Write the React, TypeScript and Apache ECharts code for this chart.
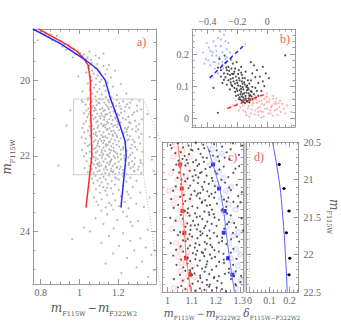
import React, { useEffect, useRef } from "react";
import * as echarts from "echarts";

// ---------- DATA ----------
// Panel a: CMD stars (colour m_F115W - m_F322W2, magnitude m_F115W)
const cmdUpper = "0.803 18.72, 0.824 18.78, 0.853 18.80, 0.842 18.86, 0.874 18.90, 0.861 18.95, 0.905 18.97, 0.893 19.02, 0.921 19.05, 0.944 19.08, 0.912 19.12, 0.953 19.14, 0.972 19.18, 0.964 19.22, 0.993 19.24, 1.004 19.28, 0.982 19.31, 1.023 19.33, 1.014 19.37, 1.042 19.40, 1.033 19.44, 1.061 19.46, 0.934 19.20, 1.083 19.35, 1.102 19.42, 0.785 18.95, 0.884 18.83, 1.124 19.30, 0.966 19.40, 1.052 19.25, 1.153 19.60";
const cmdMid = "1.033 19.52, 1.064 19.55, 1.092 19.58, 1.051 19.61, 1.123 19.63, 1.044 19.67, 1.082 19.69, 1.143 19.72, 1.065 19.75, 1.104 19.78, 1.036 19.80, 1.073 19.83, 1.134 19.85, 1.095 19.88, 1.057 19.91, 1.162 19.93, 1.086 19.96, 1.113 19.99, 1.064 20.02, 1.105 20.05, 1.146 20.07, 1.043 20.09, 1.084 20.12, 1.127 20.15, 1.173 20.17, 1.076 20.20, 1.103 20.23, 1.054 20.25, 1.135 20.28, 1.092 20.31, 1.154 20.33, 1.066 20.36, 1.115 20.38, 1.193 20.40, 1.083 20.43, 1.136 20.45, 1.044 20.47, 1.104 20.49, 1.165 20.46, 0.994 19.90, 1.213 20.10, 1.184 19.75, 1.016 20.30, 1.242 20.35";
const boxStars = "1.043 20.52, 1.087 20.548, 1.116 20.507, 1.152 20.583, 1.064 20.571, 1.193 20.529, 1.128 20.594, 1.226 20.562, 1.012 20.541, 1.271 20.518, 1.097 20.603, 1.055 20.634, 1.103 20.612, 1.137 20.658, 1.071 20.686, 1.174 20.623, 1.208 20.694, 1.032 20.647, 1.245 20.639, 1.146 20.705, 1.296 20.672, 1.089 20.661, 1.062 20.726, 1.118 20.741, 1.084 20.783, 1.163 20.712, 1.131 20.794, 1.214 20.757, 1.046 20.748, 1.186 20.803, 1.257 20.731, 1.106 20.769, 1.318 20.776, 1.053 20.842, 1.124 20.817, 1.092 20.884, 1.157 20.859, 1.074 20.813, 1.197 20.893, 1.233 20.828, 1.141 20.902, 1.024 20.871, 1.282 20.854, 1.176 20.836, 1.067 20.931, 1.104 20.958, 1.135 20.914, 1.083 20.987, 1.162 20.949, 1.204 20.923, 1.252 20.968, 1.117 20.941, 1.041 20.979, 1.223 21.004, 1.184 20.982, 1.073 21.024, 1.126 21.048, 1.094 21.081, 1.153 21.033, 1.056 21.062, 1.196 21.089, 1.143 21.097, 1.238 21.041, 1.108 21.013, 1.287 21.071, 1.171 21.057, 1.034 21.092, 1.061 21.128, 1.112 21.153, 1.136 21.179, 1.087 21.114, 1.165 21.158, 1.214 21.122, 1.182 21.191, 1.263 21.142, 1.098 21.203, 1.147 21.134, 1.308 21.168, 1.052 21.231, 1.093 21.259, 1.121 21.214, 1.156 21.277, 1.074 21.288, 1.193 21.243, 1.234 21.269, 1.133 21.252, 1.172 21.221, 1.015 21.262, 1.273 21.297, 1.064 21.326, 1.103 21.358, 1.142 21.313, 1.085 21.387, 1.163 21.349, 1.124 21.378, 1.205 21.321, 1.243 21.366, 1.184 21.403, 1.044 21.338, 1.291 21.357, 1.072 21.418, 1.114 21.452, 1.091 21.483, 1.153 21.429, 1.134 21.491, 1.192 21.462, 1.224 21.413, 1.055 21.471, 1.171 21.438, 1.262 21.479, 1.121 21.503, 1.063 21.521, 1.106 21.553, 1.144 21.527, 1.082 21.584, 1.165 21.561, 1.127 21.602, 1.213 21.538, 1.183 21.592, 1.254 21.569, 1.033 21.549, 1.307 21.517, 1.074 21.631, 1.113 21.612, 1.095 21.672, 1.152 21.648, 1.136 21.693, 1.203 21.619, 1.174 21.681, 1.235 21.657, 1.052 21.703, 1.284 21.639, 1.122 21.664, 1.066 21.729, 1.102 21.761, 1.145 21.718, 1.083 21.792, 1.164 21.748, 1.124 21.783, 1.192 21.711, 1.226 21.774, 1.043 21.741, 1.263 21.797, 1.176 21.786, 1.075 21.822, 1.116 21.853, 1.093 21.881, 1.154 21.834, 1.132 21.872, 1.185 21.902, 1.213 21.843, 1.244 21.861, 1.054 21.893, 1.297 21.828, 1.163 21.857, 1.084 21.918, 1.123 21.952, 1.105 21.983, 1.157 21.931, 1.142 21.968, 1.194 21.943, 1.232 21.991, 1.064 21.962, 1.273 21.924, 1.176 22.003, 1.113 21.909, 1.073 22.028, 1.115 22.061, 1.094 22.087, 1.152 22.023, 1.134 22.081, 1.183 22.052, 1.214 22.097, 1.253 22.041, 1.056 22.068, 1.165 22.092, 1.286 22.059, 1.024 22.014, 1.082 22.121, 1.124 22.148, 1.103 22.183, 1.162 22.132, 1.143 22.189, 1.202 22.157, 1.234 22.113, 1.065 22.171, 1.184 22.204, 1.272 22.139, 1.316 22.178, 1.074 22.218, 1.112 22.253, 1.135 22.281, 1.093 22.209, 1.173 22.262, 1.154 22.229, 1.213 22.289, 1.254 22.241, 1.052 22.272, 1.194 22.302, 1.283 22.224, 1.085 22.322, 1.126 22.357, 1.104 22.389, 1.163 22.338, 1.144 22.371, 1.192 22.314, 1.224 22.381, 1.063 22.349, 1.263 22.327, 1.175 22.403, 1.302 22.366, 1.093 22.418, 1.134 22.452, 1.114 22.483, 1.172 22.429, 1.153 22.471, 1.204 22.443, 1.243 22.491, 1.074 22.462, 1.284 22.412, 1.185 22.478, 1.043 22.438";
const boxStarsExtra = "1.017 20.583, 1.148 20.536, 1.204 20.611, 1.262 20.597, 1.309 20.548, 1.079 20.739, 1.237 20.708, 1.151 20.764, 1.297 20.822, 1.036 20.801, 1.215 20.867, 1.128 20.973, 1.273 20.912, 1.058 21.003, 1.187 21.018, 1.322 21.036, 1.256 21.109, 1.023 21.151, 1.126 21.187, 1.198 21.171, 1.293 21.222, 1.067 21.207, 1.252 21.243, 1.144 21.296, 1.025 21.379, 1.228 21.394, 1.176 21.342, 1.319 21.421, 1.083 21.446, 1.247 21.456, 1.011 21.511, 1.195 21.507, 1.276 21.582, 1.096 21.613, 1.247 21.596, 1.157 21.619, 1.313 21.681, 1.027 21.674, 1.205 21.757, 1.137 21.741, 1.288 21.762, 1.064 21.813, 1.226 21.822, 1.178 21.872, 1.324 21.893, 1.035 21.937, 1.213 21.962, 1.147 21.982, 1.262 21.975, 1.084 22.046, 1.233 22.068, 1.197 22.033, 1.315 22.117, 1.037 22.139, 1.158 22.167, 1.255 22.191, 1.094 22.236, 1.238 22.259, 1.305 22.286, 1.026 22.327, 1.207 22.352, 1.136 22.313, 1.281 22.396, 1.057 22.419, 1.225 22.461, 1.163 22.404, 1.318 22.457, 1.102 22.271, 1.188 20.682, 1.112 20.876, 1.245 21.292, 1.173 21.473, 1.091 21.729, 1.271 21.711, 1.118 22.001, 1.276 22.291, 1.048 20.907, 1.302 21.303, 1.013 21.847, 1.328 22.223";
const cmdOutliers = "0.892 22.26, 0.934 21.20, 1.362 21.50, 1.374 22.10, 0.953 20.80, 1.351 20.90, 1.383 22.40";
const cmdLower = "1.083 22.53, 1.124 22.56, 1.152 22.52, 1.106 22.59, 1.183 22.57, 1.224 22.54, 1.064 22.60, 1.262 22.58, 1.135 22.62, 1.093 22.65, 1.166 22.67, 1.204 22.63, 1.115 22.70, 1.243 22.68, 1.072 22.72, 1.294 22.66, 1.146 22.74, 1.183 22.76, 1.104 22.79, 1.226 22.80, 1.122 22.83, 1.163 22.86, 1.274 22.82, 1.085 22.88, 1.203 22.90, 1.134 22.92, 1.245 22.95, 1.106 22.98, 1.173 23.00, 1.314 22.97, 1.142 23.04, 1.213 23.07, 1.075 23.10, 1.264 23.12, 1.116 23.15, 1.185 23.18, 1.233 23.22, 1.154 23.25, 1.293 23.27, 1.096 23.30, 1.204 23.33, 1.135 23.36, 1.253 23.39, 1.174 23.42, 1.332 23.35, 1.113 23.45, 1.225 23.48, 1.362 23.10, 1.192 22.60, 1.142 22.84, 1.253 23.02, 1.087 23.21, 1.164 23.31";
const cmdFaint = "1.143 23.55, 1.244 23.60, 1.083 23.65, 1.195 23.70, 1.302 23.72, 1.124 23.80, 1.273 23.85, 1.176 23.92, 1.353 23.95, 1.054 24.00, 1.225 24.05, 1.153 24.12, 1.314 24.18, 1.262 24.25, 1.113 24.30, 1.204 24.38, 1.342 24.42, 1.283 24.50, 1.174 24.58, 1.372 24.62, 1.246 24.70, 1.323 24.80, 1.135 24.85, 1.294 24.95, 1.384 25.02, 1.216 25.10, 1.355 25.20, 1.263 23.75, 1.024 23.90, 0.963 24.20";

const redFiducialColor = [0.79, 0.86, 0.93, 0.99, 1.022, 1.046, 1.056, 1.059, 1.062, 1.064, 1.034];
const redFiducialMag = [18.65, 18.85, 19.05, 19.25, 19.43, 19.62, 20.0, 21.0, 21.6, 22.0, 23.37];
const blueFiducialColor = [0.76, 0.9, 1.02, 1.09, 1.133, 1.159, 1.2, 1.236, 1.241, 1.214];
const blueFiducialMag = [18.65, 19.03, 19.43, 19.7, 20.0, 20.47, 21.05, 21.62, 22.0, 23.37];
const zoomBoxColor = [0.97, 1.33];
const zoomBoxMag = [20.5, 22.5];

// Panel b: pseudo two-colour diagram
const bBlack = "-0.30 0.165, -0.28 0.172, -0.27 0.150, -0.29 0.140, -0.26 0.160, -0.25 0.135, -0.24 0.155, -0.23 0.125, -0.22 0.145, -0.26 0.118, -0.21 0.130, -0.20 0.110, -0.24 0.105, -0.19 0.125, -0.18 0.100, -0.22 0.095, -0.17 0.115, -0.16 0.090, -0.20 0.085, -0.15 0.105, -0.14 0.080, -0.18 0.075, -0.13 0.095, -0.12 0.070, -0.16 0.065, -0.11 0.085, -0.10 0.060, -0.14 0.055, -0.09 0.075, -0.12 0.050, -0.31 0.150, -0.28 0.128, -0.23 0.170, -0.19 0.150, -0.17 0.135, -0.15 0.125, -0.13 0.118, -0.21 0.070, -0.19 0.060, -0.17 0.055, -0.15 0.048, -0.25 0.090, -0.27 0.105, -0.08 0.095, -0.06 0.110, -0.05 0.130, -0.07 0.150, -0.10 0.140, -0.04 0.085, -0.02 0.100, -0.09 0.165, -0.11 0.175, -0.33 0.017, -0.36 0.095, -0.32 0.185, -0.285 0.195, -0.245 0.185, -0.205 0.175, -0.175 0.160, -0.145 0.145, -0.195 0.102, -0.185 0.088, -0.175 0.082, -0.165 0.097, -0.155 0.078, -0.145 0.070, -0.135 0.088, -0.125 0.062, -0.205 0.118, -0.215 0.108, -0.225 0.115, -0.235 0.138, -0.245 0.122, -0.255 0.148, -0.265 0.138, -0.275 0.158, -0.195 0.138, -0.185 0.118, -0.165 0.108, -0.155 0.112, -0.135 0.102, -0.125 0.090, -0.115 0.072, -0.105 0.068, -0.195 0.072, -0.185 0.065, -0.175 0.092, -0.165 0.075, -0.155 0.058, -0.145 0.062, -0.135 0.052, -0.125 0.078, -0.115 0.058, -0.105 0.082, -0.165 0.125, -0.175 0.142, -0.215 0.155, -0.225 0.138, -0.235 0.100, -0.245 0.112, -0.205 0.092, -0.215 0.082, -0.17 0.068, -0.16 0.052, -0.18 0.058, -0.14 0.098, -0.12 0.108, -0.10 0.098, -0.11 0.118, -0.08 0.128, -0.06 0.070, -0.07 0.085, -0.03 0.115, -0.01 0.140, -0.03 0.160, 0.01 0.125, -0.29 0.120, -0.31 0.130, -0.33 0.158, -0.30 0.110, 0.12 0.196";
const bBlue = "-0.43 0.205, -0.41 0.185, -0.39 0.220, -0.37 0.195, -0.36 0.240, -0.35 0.175, -0.34 0.210, -0.33 0.250, -0.32 0.190, -0.31 0.225, -0.30 0.205, -0.29 0.260, -0.28 0.185, -0.27 0.215, -0.26 0.235, -0.38 0.165, -0.35 0.155, -0.33 0.140, -0.30 0.175, -0.28 0.240, -0.25 0.205, -0.24 0.180, -0.315 0.270, -0.345 0.225, -0.365 0.205, -0.395 0.180, -0.405 0.235, -0.325 0.170, -0.295 0.155, -0.27 0.190, -0.31 0.245, -0.34 0.195, -0.36 0.175, -0.38 0.210, -0.42 0.170";
const bRed = "-0.20 0.045, -0.18 0.035, -0.17 0.055, -0.16 0.025, -0.15 0.045, -0.14 0.060, -0.13 0.030, -0.12 0.050, -0.11 0.015, -0.10 0.040, -0.09 0.060, -0.08 0.025, -0.07 0.048, -0.06 0.010, -0.05 0.035, -0.04 0.055, -0.03 0.020, -0.02 0.042, -0.01 0.065, 0.00 0.030, 0.01 0.050, 0.02 0.015, 0.03 0.040, 0.04 0.060, 0.05 0.025, 0.06 0.045, 0.07 0.010, 0.08 0.035, 0.09 0.020, 0.10 0.045, 0.11 0.030, -0.165 0.040, -0.145 0.020, -0.135 0.052, -0.125 0.038, -0.115 0.062, -0.105 0.028, -0.095 0.048, -0.085 0.012, -0.075 0.058, -0.065 0.032, -0.055 0.052, -0.045 0.022, -0.035 0.045, -0.025 0.005, -0.015 0.030, -0.005 0.050, 0.005 0.015, 0.015 0.058, 0.025 0.035, 0.035 0.008, 0.045 0.045, 0.055 0.052, 0.065 0.028, 0.075 0.048, 0.085 0.055, -0.19 0.025, -0.21 0.055, -0.23 0.040, -0.12 0.005, -0.08 0.070, -0.04 0.002, 0.00 0.068, 0.04 0.070, 0.12 0.015, 0.13 0.040, 0.16 0.020, -0.06 0.020, -0.10 0.055, -0.14 0.010, -0.02 0.060, 0.02 0.025, 0.06 0.062, 0.17 0.060";
const bBlueLineX = [-0.385, -0.145];
const bBlueLineY = [0.126, 0.232];
const bRedLineX = [-0.267, 0.0];
const bRedLineY = [0.031, 0.078];

// Panel c: selected stars and fiducials
const cRedSel = "1.034 20.55, 1.062 20.62, 1.023 20.70, 1.051 20.78, 1.083 20.85, 1.014 20.92, 1.042 21.00, 1.073 21.05, 1.031 21.12, 1.064 21.20, 1.092 21.27, 1.025 21.33, 1.053 21.40, 1.084 21.46, 1.043 21.53, 1.072 21.60, 1.016 21.66, 1.061 21.72, 1.094 21.78, 1.035 21.84, 1.055 21.90, 1.083 21.97, 1.044 22.03, 1.075 22.10, 1.102 22.16, 1.053 22.22, 1.086 22.28, 1.064 22.35, 1.093 22.41, 1.074 22.47, 1.046 20.66, 1.077 20.96, 1.035 21.25, 1.066 21.57, 1.047 21.95, 1.112 22.30, 1.026 22.45, 1.005 21.15, 1.093 20.70, 1.057 22.12";
const cBlueSel = "1.183 20.60, 1.204 20.72, 1.176 20.80, 1.213 20.90, 1.232 20.98, 1.205 21.05, 1.243 21.15, 1.224 21.25, 1.253 21.33, 1.235 21.45, 1.262 21.55, 1.244 21.63, 1.273 21.75, 1.255 21.85, 1.284 21.93, 1.263 22.05, 1.292 22.15, 1.274 22.25, 1.303 22.35, 1.285 22.45, 1.225 20.65, 1.264 21.10, 1.282 21.40, 1.294 21.70, 1.302 22.00";
const binMag = [20.8, 21.12, 21.42, 21.71, 22.05, 22.27];
const redBinColor = [1.052, 1.059, 1.062, 1.07, 1.077, 1.093];
const blueBinColor = [1.189, 1.214, 1.237, 1.233, 1.251, 1.269];
const redLineColor = [1.044, 1.052, 1.059, 1.064, 1.07, 1.078, 1.088, 1.097];
const redLineMag = [20.55, 20.82, 21.12, 21.42, 21.71, 22.05, 22.3, 22.5];
const blueLineColor = [1.165, 1.19, 1.215, 1.232, 1.243, 1.255, 1.268, 1.278];
const blueLineMag = [20.55, 20.82, 21.1, 21.4, 21.7, 22.0, 22.3, 22.5];

// Panel d: colour separation
const dDelta = [0.148, 0.172, 0.197, 0.184, 0.201, 0.197];
const dErr = [0.008, 0.008, 0.008, 0.008, 0.008, 0.008];
const dCurveDelta = [0.115, 0.135, 0.152, 0.163, 0.172, 0.179, 0.185, 0.188];
const dCurveMag = [20.5, 20.8, 21.1, 21.4, 21.7, 22.0, 22.3, 22.5];

// tick labels
const aXTicks = [0.8, 1.0, 1.2];
const aYTicks = [20, 22, 24];
const bXTicks = [-0.4, -0.2, 0];
const bYTicks = [0, 0.1, 0.2];
const cXTicks = [1.0, 1.1, 1.2, 1.3];
const cdYTicks = [20.5, 21, 21.5, 22, 22.5];
const dXTicks = [0, 0.1, 0.2];

// ---------- HELPERS ----------
function pairs(s: string): number[][] {
  return s
    .split(",")
    .map((t) => t.trim().split(/\s+/).map(Number))
    .filter((p) => p.length === 2 && !isNaN(p[0]) && !isNaN(p[1]));
}
function zip(a: number[], b: number[]): number[][] {
  return a.map((v, i) => [v, b[i]]);
}
function steps(from: number, to: number, step: number): number[] {
  const out: number[] = [];
  const n = Math.round((to - from) / step);
  for (let i = 0; i <= n; i++) out.push(Math.round((from + i * step) * 1000) / 1000);
  return out;
}
const fmt = (v: number) => String(Math.round(v * 100) / 100).replace("-", "\u2212");

const AX = "#9a9a9a";
const LBL = "#666";
const SERIF = "Liberation Serif";

const GRIDS = [
  { left: 32, top: 29, width: 124, height: 263 }, // a
  { left: 192, top: 29, width: 103, height: 98 }, // b
  { left: 162, top: 142, width: 81, height: 150 }, // c
  { left: 246, top: 142, width: 54, height: 150 }, // d
];

function richName(big: number, small: number) {
  return {
    m: { fontFamily: "DejaVu Serif", fontStyle: "italic", fontSize: big, color: "#555", verticalAlign: "bottom", padding: [0, 0, 3, 0] },
    s: { fontFamily: "DejaVu Serif", fontSize: small, color: "#555", verticalAlign: "bottom", padding: [0, 1, 0, 0] },
    o: { fontFamily: "DejaVu Serif", fontSize: big - 1, color: "#555", verticalAlign: "bottom", padding: [0, 1, 3, 1] },
  };
}

function addAxes(
  list: any[],
  gridIndex: number,
  isX: boolean,
  min: number,
  max: number,
  majors: number[],
  minors: number[],
  labelPos: string | null,
  inverse: boolean,
  name?: string,
  nameOpts?: any
): number {
  const positions = isX ? ["bottom", "top"] : ["left", "right"];
  const mainIndex = list.length;
  for (const pos of positions) {
    const showLabel = pos === labelPos;
    const base: any = {
      type: "value",
      gridIndex,
      min,
      max,
      position: pos,
      inverse,
      splitLine: { show: false },
      scale: true,
    };
    list.push({
      ...base,
      axisLine: { show: true, onZero: false, lineStyle: { color: AX, width: 1 } },
      axisTick: { show: true, inside: true, length: 5, customValues: majors, lineStyle: { color: AX } },
      axisLabel: {
        show: showLabel,
        customValues: majors,
        formatter: fmt,
        fontFamily: SERIF,
        fontSize: 10,
        color: LBL,
        margin: 3,
      },
      ...(showLabel && name ? { name, ...nameOpts } : {}),
    });
    list.push({
      ...base,
      axisLine: { show: false, onZero: false },
      axisTick: { show: true, inside: true, length: 2.5, customValues: minors, lineStyle: { color: AX } },
      axisLabel: { show: false },
    });
  }
  return mainIndex;
}

export default function App() {
  const ref = useRef<HTMLDivElement>(null);

  useEffect(() => {
    document.body.style.margin = "0";
    if (!ref.current) return;
    const chart = echarts.init(ref.current, null, { renderer: "svg" });

    const xAxes: any[] = [];
    const yAxes: any[] = [];
    const big = { rich: richName(12, 6.5) };
    const small = { rich: richName(10.5, 5.8) };
    // a
    const aX = addAxes(xAxes, 0, true, 0.76, 1.395, aXTicks, steps(0.8, 1.35, 0.05), "bottom", false,
      "{m|m}{s|F115W}{o|\u2212}{m|m}{s|F322W2}", { nameLocation: "middle", nameGap: 15, nameTextStyle: big });
    const aY = addAxes(yAxes, 0, false, 18.65, 25.39, aYTicks, steps(19, 25, 0.5), "left", true,
      "{m|m}{s|F115W}", { nameLocation: "middle", nameGap: 15, nameRotate: 90, nameTextStyle: big });
    // b
    const bX = addAxes(xAxes, 1, true, -0.503, 0.185, bXTicks, steps(-0.48, 0.16, 0.04), "top", false);
    const bY = addAxes(yAxes, 1, false, -0.027, 0.278, bYTicks, steps(-0.02, 0.26, 0.02), "left", false);
    // c
    const cX = addAxes(xAxes, 2, true, 0.977, 1.313, cXTicks, steps(0.98, 1.3, 0.02), "bottom", false,
      "{m|m}{s|F115W}{o|\u2212}{m|m}{s|F322W2}", { nameLocation: "middle", nameGap: 15, nameTextStyle: small });
    const cY = addAxes(yAxes, 2, false, 20.5, 22.5, cdYTicks, steps(20.5, 22.5, 0.1), null, true);
    // d
    const dX = addAxes(xAxes, 3, true, -0.018, 0.245, dXTicks, steps(0, 0.24, 0.02), "bottom", false,
      "{m|\u03b4}{s|F115W\u2212F322W2}", { nameLocation: "middle", nameGap: 15, nameTextStyle: small });
    const dY = addAxes(yAxes, 3, false, 20.5, 22.5, cdYTicks, steps(20.5, 22.5, 0.1), "right", true,
      "{m|m}{s|F115W}", { nameLocation: "middle", nameGap: 24, nameRotate: -90, nameTextStyle: big });
    yAxes[dY + 2].axisLabel.margin = 5;

    const sc = (xi: number, yi: number, data: number[][], color: string, size: number, extra: any = {}) => ({
      type: "scatter",
      xAxisIndex: xi,
      yAxisIndex: yi,
      data,
      symbolSize: size,
      itemStyle: { color },
      silent: true,
      ...extra,
    });
    const ln = (xi: number, yi: number, data: number[][], color: string, width: number, extra: any = {}) => ({
      type: "line",
      xAxisIndex: xi,
      yAxisIndex: yi,
      data,
      symbol: "none",
      lineStyle: { color, width },
      silent: true,
      ...extra,
    });

    const box = [
      [zoomBoxColor[0], zoomBoxMag[0]],
      [zoomBoxColor[1], zoomBoxMag[0]],
      [zoomBoxColor[1], zoomBoxMag[1]],
      [zoomBoxColor[0], zoomBoxMag[1]],
      [zoomBoxColor[0], zoomBoxMag[0]],
    ];
    const inBox = [...pairs(boxStars), ...pairs(boxStarsExtra)];

    const series: any[] = [
      // panel a
      ln(aX, aY, box, "#cfcfcf", 1),
      sc(aX, aY, [...pairs(cmdUpper), ...pairs(cmdMid), ...inBox, ...pairs(cmdOutliers), ...pairs(cmdLower), ...pairs(cmdFaint)], "#a4a4a4", 2),
      ln(aX, aY, zip(redFiducialColor, redFiducialMag), "#ff2a2a", 1.5),
      ln(aX, aY, zip(blueFiducialColor, blueFiducialMag), "#2a2aff", 1.5),
      // panel b
      sc(bX, bY, pairs(bRed), "#ff9a9a", 2),
      sc(bX, bY, pairs(bBlue), "#a0a0ff", 2),
      sc(bX, bY, pairs(bBlack), "#222", 2),
      ln(bX, bY, zip(bBlueLineX, bBlueLineY), "#2020ff", 1.5, { lineStyle: { color: "#2020ff", width: 1.5, type: [4, 3] } }),
      ln(bX, bY, zip(bRedLineX, bRedLineY), "#ff2020", 1.5, { lineStyle: { color: "#ff2020", width: 1.5, type: [4, 3] } }),
      // panel c
      sc(cX, cY, pairs(cRedSel), "rgba(255,150,150,0.35)", 4.5, { symbol: "emptyCircle" }),
      sc(cX, cY, pairs(cBlueSel), "rgba(150,150,255,0.35)", 4.5, { symbol: "emptyCircle" }),
      sc(cX, cY, inBox, "#2a2a2a", 2),
      ln(cX, cY, zip(redLineColor, redLineMag), "#ff7070", 1, { smooth: 0.3 }),
      ln(cX, cY, zip(blueLineColor, blueLineMag), "#7070ff", 1, { smooth: 0.3 }),
      sc(cX, cY, zip(redBinColor, binMag), "#ff0000", 4, { symbol: "rect" }),
      sc(cX, cY, zip(blueBinColor, binMag), "#0000ff", 4, { symbol: "rect" }),
      // panel d
      ln(dX, dY, [[0, 20.5], [0, 22.5]], "#bbb", 1, { lineStyle: { color: "#bbb", width: 1, type: [1, 2] } }),
      ln(dX, dY, zip(dCurveDelta, dCurveMag), "#5a5aff", 1, { smooth: 0.3 }),
      {
        type: "custom",
        xAxisIndex: dX,
        yAxisIndex: dY,
        silent: true,
        data: dDelta.map((v, i) => [v, binMag[i], dErr[i]]),
        renderItem: (_p: any, api: any) => {
          const x = api.value(0), y = api.value(1), e = api.value(2);
          const p0 = api.coord([x - e, y]);
          const p1 = api.coord([x + e, y]);
          const c = api.coord([x, y]);
          return {
            type: "group",
            children: [
              { type: "line", shape: { x1: p0[0], y1: p0[1], x2: p1[0], y2: p1[1] }, style: { stroke: "#000", lineWidth: 1 } },
              { type: "circle", shape: { cx: c[0], cy: c[1], r: 1.5 }, style: { fill: "#000" } },
            ],
          };
        },
      },
    ];

    chart.setOption({
      animation: false,
      backgroundColor: "#fff",
      grid: GRIDS.map((g) => ({ ...g, containLabel: false })),
      xAxis: xAxes,
      yAxis: yAxes,
      series,
    });

    const tl = chart.convertToPixel({ xAxisIndex: aX, yAxisIndex: aY }, [zoomBoxColor[1], zoomBoxMag[0]]) as number[];
    const bl = chart.convertToPixel({ xAxisIndex: aX, yAxisIndex: aY }, [zoomBoxColor[1], zoomBoxMag[1]]) as number[];
    const gc = GRIDS[2];
    const labelStyle = (t: string, x: number, y: number) => ({
      type: "text",
      x,
      y,
      silent: true,
      style: { text: t, fill: "#f25c5c", font: "12px 'Liberation Serif'" },
    });
    chart.setOption({
      graphic: [
        { type: "rect", silent: true, shape: { x: 243, y: 142, width: 3, height: 150 }, style: { fill: "#d4d4d4" } },
        { type: "line", silent: true, shape: { x1: tl[0], y1: tl[1], x2: gc.left - 1, y2: gc.top }, style: { stroke: "#bbb", lineWidth: 1, lineDash: [1, 2] } },
        { type: "line", silent: true, shape: { x1: bl[0], y1: bl[1], x2: gc.left - 1, y2: gc.top + gc.height }, style: { stroke: "#bbb", lineWidth: 1, lineDash: [1, 2] } },
        labelStyle("a)", 137, 36),
        labelStyle("b)", 280, 33),
        labelStyle("c)", 228, 151),
        labelStyle("d)", 254, 151),
      ],
    });

    return () => chart.dispose();
  }, []);

  return <div ref={ref} style={{ width: 341, height: 322 }} />;
}
